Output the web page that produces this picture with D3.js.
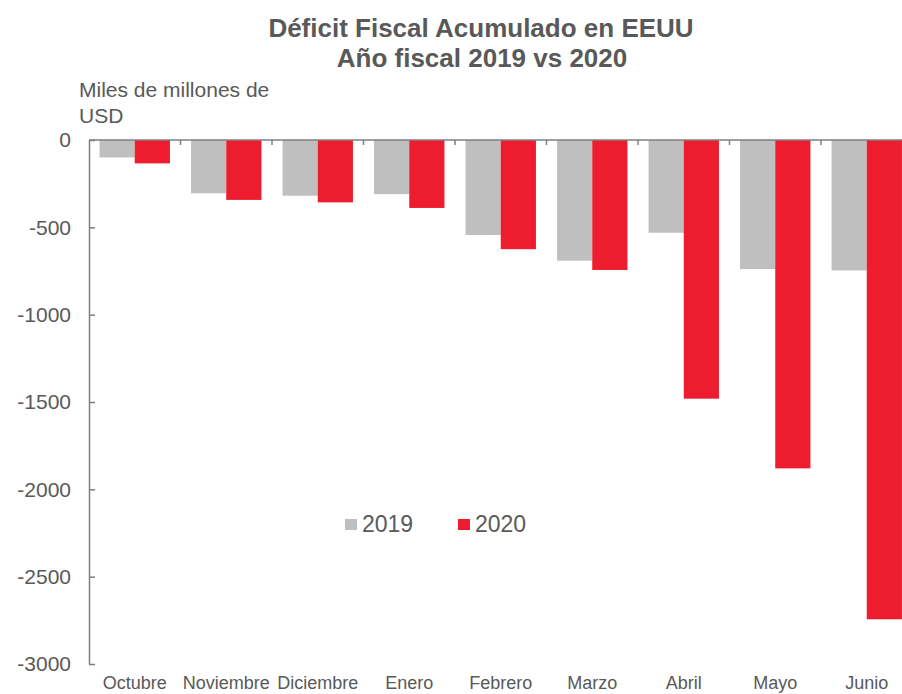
<!DOCTYPE html>
<html><head><meta charset="utf-8">
<script src="https://cdn.jsdelivr.net/npm/d3@7"></script>
<style>body{margin:0;background:#fff}svg{display:block}text{font-family:"Liberation Sans",Arial,sans-serif;fill:#595959}</style>
</head><body><svg id="c" width="902" height="694"></svg>
<script>
const categories = ["Octubre","Noviembre","Diciembre","Enero","Febrero","Marzo","Abril","Mayo","Junio"];
const seriesNames = ["2019","2020"];
const values2019 = [-100,-305,-319,-310,-544,-691,-531,-739,-747];
const values2020 = [-134,-343,-357,-389,-625,-744,-1481,-1880,-2744];
const yTicks = [0,-500,-1000,-1500,-2000,-2500,-3000];
const colors = ["#BFBFBF","#ED1C2E"];

const svg = d3.select("#c");
const x = d3.scaleBand().domain(categories).range([89, 89 + 9*91.5]).padding(0);
const x1 = d3.scaleBand().domain(seriesNames).range([0, x.bandwidth()]).paddingInner(0).paddingOuter(0.3);
const y = d3.scaleLinear().domain([0,-3000]).range([140,664]);
const axisColor = "#7f7f7f";

// bars
const data = [values2019, values2020];
seriesNames.forEach((s,i)=>{
  svg.append("g").selectAll("rect").data(categories).join("rect")
    .attr("x", d=>x(d)+x1(s))
    .attr("y", y(0))
    .attr("width", x1.bandwidth())
    .attr("height", (d,j)=>y(data[i][j]) - y(0))
    .attr("fill", colors[i]);
});

// y axis
const ya = svg.append("g").attr("transform","translate(89,0)")
  .call(d3.axisLeft(y).tickValues(yTicks).tickFormat(d=>String(d)).tickSizeInner(-6).tickSizeOuter(0).tickPadding(18));
ya.select(".domain").attr("stroke",axisColor).attr("stroke-width",1.5);
ya.selectAll(".tick line").attr("stroke",axisColor).attr("stroke-width",1.5);
ya.selectAll("text").style("font-size","21px").attr("fill","#595959");

// zero line with category boundary ticks
const xa = svg.append("g").attr("transform",`translate(0,${y(0)})`);
xa.append("line").attr("x1",89).attr("x2",912.5).attr("stroke",axisColor).attr("stroke-width",1.5);
xa.selectAll("line.t").data(categories.slice(1)).join("line").attr("class","t")
  .attr("x1",d=>x(d)).attr("x2",d=>x(d)).attr("y1",0).attr("y2",5)
  .attr("stroke",axisColor).attr("stroke-width",1.5);

// category labels
const xl = svg.append("g").attr("transform",`translate(0,${y(-3000)})`)
  .call(d3.axisBottom(x).tickSize(0).tickPadding(12.5));
xl.select(".domain").remove();
xl.selectAll("text").style("font-size","18px").attr("fill","#595959");

// title
svg.append("text").attr("x",481).attr("y",37).attr("text-anchor","middle")
  .style("font-size","26px").style("font-weight","bold").text("Déficit Fiscal Acumulado en EEUU");
svg.append("text").attr("x",482).attr("y",67).attr("text-anchor","middle")
  .style("font-size","26px").style("font-weight","bold").text("Año fiscal 2019 vs 2020");

// y label
svg.append("text").attr("x",79).attr("y",97).style("font-size","21px").text("Miles de millones de");
svg.append("text").attr("x",79).attr("y",123).style("font-size","21px").text("USD");

// legend
const lg = svg.append("g");
const legX = [345, 458];
seriesNames.forEach((s,i)=>{
  lg.append("rect").attr("x",legX[i]).attr("y",519).attr("width",12).attr("height",11).attr("fill",colors[i]);
  lg.append("text").attr("x",legX[i]+17).attr("y",532).style("font-size","23px").text(s);
});
</script></body></html>
